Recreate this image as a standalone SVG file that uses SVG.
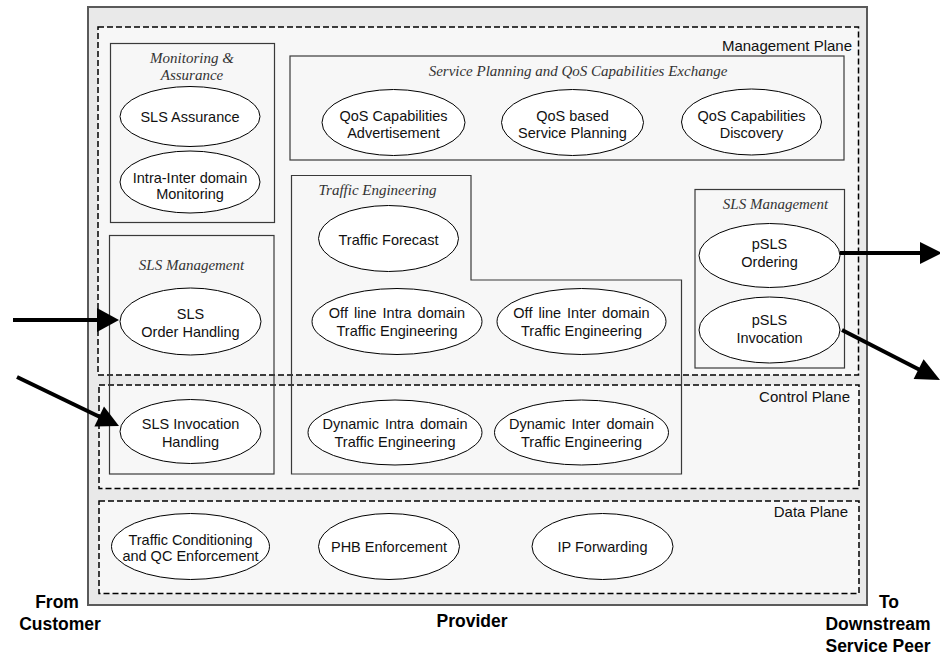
<svg xmlns="http://www.w3.org/2000/svg" width="940" height="658" viewBox="0 0 940 658">
<style>
.plane{fill:#f7f7f7;stroke:#000;stroke-width:1.5;stroke-dasharray:6 3}
.box{fill:none;stroke:#3a3a3a;stroke-width:1.2}
.el{fill:#fff;stroke:#000;stroke-width:1}
.t{font-family:"Liberation Sans",Arial,sans-serif;font-size:14.5px;fill:#111;text-anchor:middle}
.pl{font-family:"Liberation Sans",Arial,sans-serif;font-size:15px;fill:#111;text-anchor:end}
.ti{font-family:"Liberation Serif","Times New Roman",serif;font-size:15px;font-style:italic;fill:#333;text-anchor:middle}
.b{font-family:"Liberation Sans",Arial,sans-serif;font-size:17.5px;font-weight:bold;fill:#000;text-anchor:middle}
.ar{stroke:#000;stroke-width:4;fill:none}
.ah{fill:#000}
</style>
<rect width="940" height="658" fill="#fff"/>
<g id="provider">
<rect x="88" y="7" width="779" height="598" fill="#e9e9e9" stroke="#5a5a5a" stroke-width="2"/>
</g>
<g id="management-plane">
<rect class="plane" x="98" y="27" width="760.5" height="348"/>
<text class="pl" x="852" y="51">Management Plane</text>
</g>
<g id="control-plane">
<rect class="plane" x="99" y="385" width="760" height="103.5"/>
<text class="pl" x="850" y="402">Control Plane</text>
</g>
<g id="data-plane">
<rect class="plane" x="99" y="501" width="760" height="92.5"/>
<text class="pl" x="848" y="517">Data Plane</text>
</g>

<g id="monitoring-assurance">
<rect class="box" x="110.5" y="43.5" width="164" height="179"/>
<text class="ti" x="192" y="63">Monitoring &amp;</text>
<text class="ti" x="192" y="80">Assurance</text>
</g>
<g id="sls-assurance">
<ellipse class="el" cx="190" cy="116.5" rx="70" ry="30"/>
<text class="t" x="190" y="122">SLS Assurance</text>
</g>
<g id="intra-inter-monitoring">
<ellipse class="el" cx="190" cy="182" rx="70" ry="31"/>
<text class="t" x="190" y="183">Intra-Inter domain</text>
<text class="t" x="190" y="199">Monitoring</text>
</g>

<g id="service-planning">
<rect class="box" x="290" y="56" width="554" height="104"/>
<text class="ti" x="578" y="76">Service Planning and QoS Capabilities Exchange</text>
</g>
<g id="qos-cap-adv">
<ellipse class="el" cx="393.5" cy="122.5" rx="71.5" ry="33"/>
<text class="t" x="393.5" y="121">QoS Capabilities</text>
<text class="t" x="393.5" y="138">Advertisement</text>
</g>
<g id="qos-service-planning">
<ellipse class="el" cx="572.5" cy="122.5" rx="71" ry="33"/>
<text class="t" x="572.5" y="121">QoS based</text>
<text class="t" x="572.5" y="138">Service Planning</text>
</g>
<g id="qos-cap-disc">
<ellipse class="el" cx="751.5" cy="122" rx="70" ry="33"/>
<text class="t" x="751.5" y="120.5">QoS Capabilities</text>
<text class="t" x="751.5" y="137.5">Discovery</text>
</g>

<g id="traffic-engineering">
<path class="box" d="M291.5,175.5 H471 V280 H681.5 V474 H291.5 Z"/>
<text class="ti" x="377.5" y="195">Traffic Engineering</text>
</g>
<g id="traffic-forecast">
<ellipse class="el" cx="388.5" cy="238.5" rx="70" ry="33"/>
<text class="t" x="388.5" y="245">Traffic Forecast</text>
</g>
<g id="offline-intra">
<ellipse class="el" cx="397" cy="321.5" rx="85" ry="33"/>
<text class="t" x="397" y="318" word-spacing="2">Off line Intra domain</text>
<text class="t" x="397" y="336">Traffic Engineering</text>
</g>
<g id="offline-inter">
<ellipse class="el" cx="581.5" cy="321.5" rx="84.5" ry="33"/>
<text class="t" x="581.5" y="318" word-spacing="2">Off line Inter domain</text>
<text class="t" x="581.5" y="336">Traffic Engineering</text>
</g>
<g id="dynamic-intra">
<ellipse class="el" cx="395" cy="432.5" rx="87" ry="32.5"/>
<text class="t" x="395" y="429" word-spacing="2">Dynamic Intra domain</text>
<text class="t" x="395" y="447">Traffic Engineering</text>
</g>
<g id="dynamic-inter">
<ellipse class="el" cx="581.5" cy="432.5" rx="87" ry="32.5"/>
<text class="t" x="581.5" y="429" word-spacing="2">Dynamic Inter domain</text>
<text class="t" x="581.5" y="447">Traffic Engineering</text>
</g>

<g id="sls-management-left">
<rect class="box" x="109.5" y="235.5" width="164.5" height="238.5"/>
<text class="ti" x="191.5" y="270">SLS Management</text>
</g>
<g id="sls-order-handling">
<ellipse class="el" cx="190.5" cy="321.5" rx="70.5" ry="33.5"/>
<text class="t" x="190.5" y="318.5">SLS</text>
<text class="t" x="190.5" y="337">Order Handling</text>
</g>
<g id="sls-invocation-handling">
<ellipse class="el" cx="190.5" cy="431.5" rx="70.5" ry="32"/>
<text class="t" x="190.5" y="428.5">SLS Invocation</text>
<text class="t" x="190.5" y="447">Handling</text>
</g>

<g id="sls-management-right">
<rect class="box" x="695" y="189.5" width="149.5" height="178.5"/>
<text class="ti" x="775.5" y="209">SLS Management</text>
</g>
<g id="psls-ordering">
<ellipse class="el" cx="769.5" cy="255.5" rx="70.5" ry="32"/>
<text class="t" x="769.5" y="249">pSLS</text>
<text class="t" x="769.5" y="267">Ordering</text>
</g>
<g id="psls-invocation">
<ellipse class="el" cx="769.5" cy="330" rx="70.5" ry="33"/>
<text class="t" x="769.5" y="325">pSLS</text>
<text class="t" x="769.5" y="343">Invocation</text>
</g>

<g id="traffic-conditioning">
<ellipse class="el" cx="190.5" cy="546.5" rx="79" ry="33"/>
<text class="t" x="190.5" y="544.5">Traffic Conditioning</text>
<text class="t" x="190.5" y="561">and QC Enforcement</text>
</g>
<g id="phb-enforcement">
<ellipse class="el" cx="389" cy="546.5" rx="70.5" ry="33"/>
<text class="t" x="389" y="552">PHB Enforcement</text>
</g>
<g id="ip-forwarding">
<ellipse class="el" cx="602.5" cy="546.5" rx="70.5" ry="33"/>
<text class="t" x="602.5" y="552">IP Forwarding</text>
</g>

<g id="labels">
<text class="b" x="57" y="608">From</text>
<text class="b" x="60" y="630">Customer</text>
<text class="b" x="472" y="627">Provider</text>
<text class="b" x="889" y="608">To</text>
<text class="b" x="878" y="630">Downstream</text>
<text class="b" x="878" y="652">Service Peer</text>
</g>

<g id="connectors">
<line class="ar" x1="13" y1="320" x2="99" y2="320"/>
<polygon class="ah" points="119,320 97,308 97,332"/>
<line class="ar" x1="17" y1="377" x2="101" y2="417.5"/>
<polygon class="ah" points="119,426 94.4,426.4 104,406.6"/>
<line class="ar" x1="840" y1="253" x2="922" y2="253"/>
<polygon class="ah" points="942,253 920,242 920,264"/>
<line class="ar" x1="842" y1="330" x2="920" y2="370"/>
<polygon class="ah" points="940,380 913.6,378.9 923.6,359.3"/>
</g>
</svg>
